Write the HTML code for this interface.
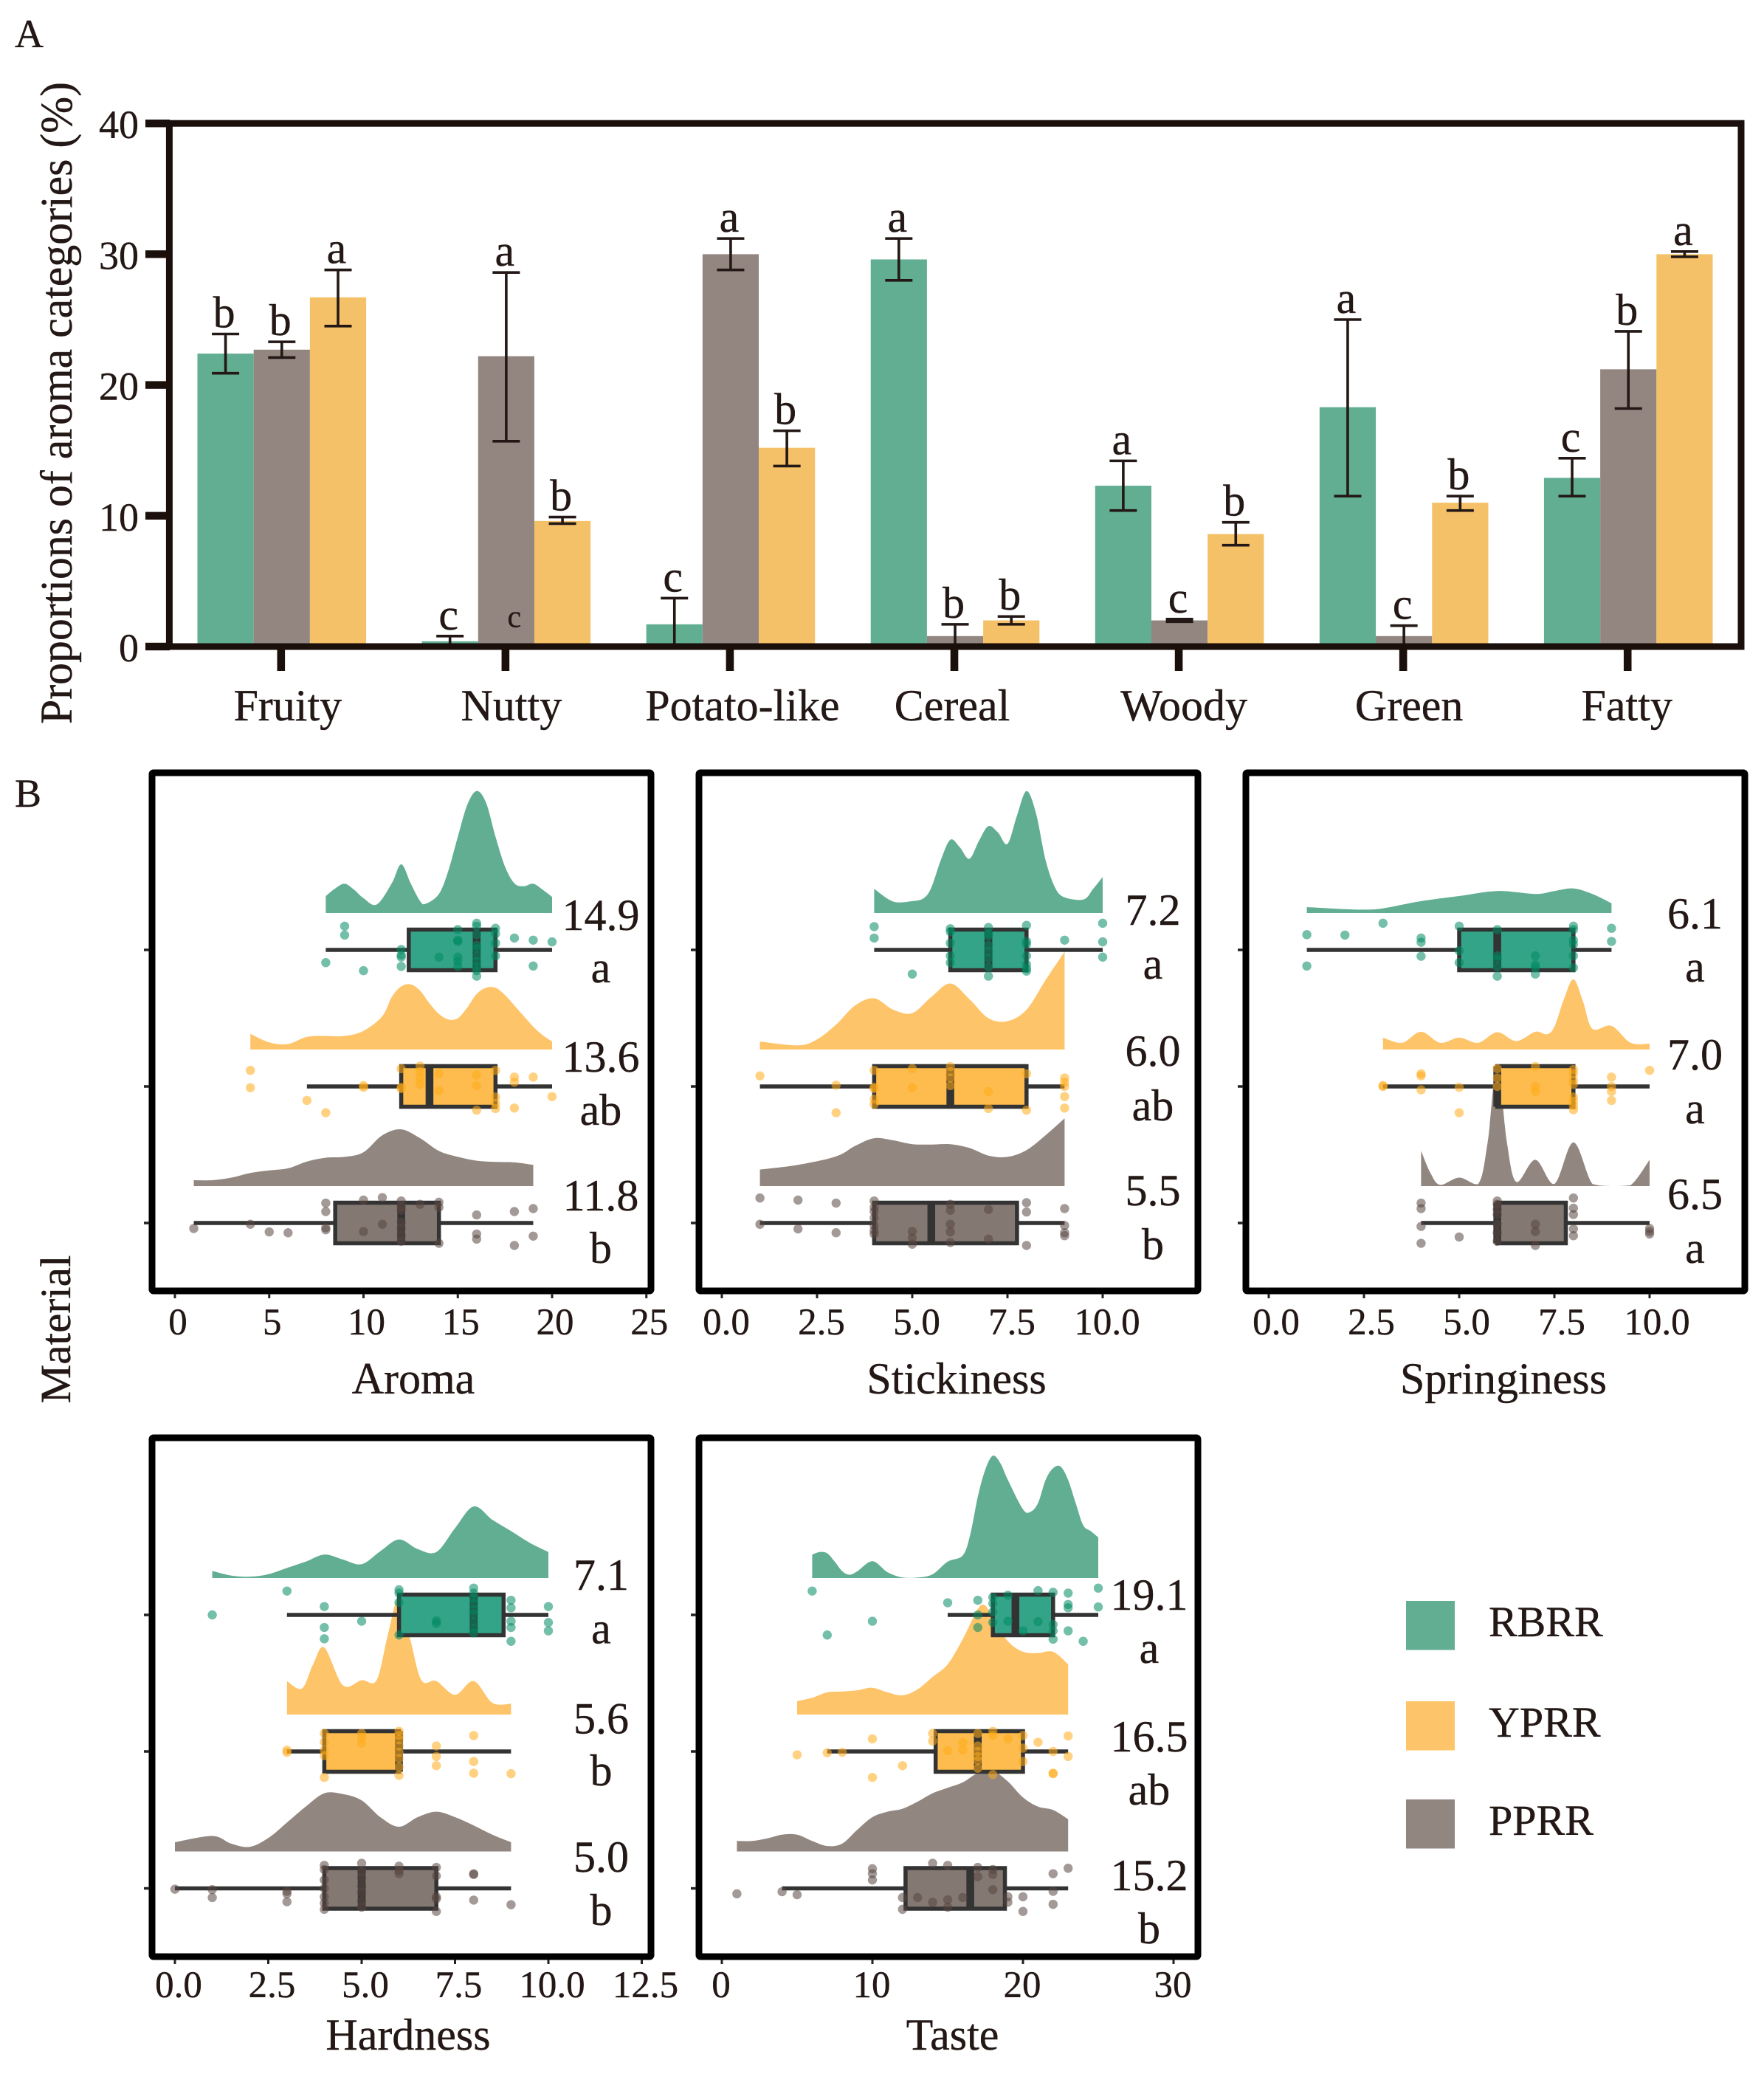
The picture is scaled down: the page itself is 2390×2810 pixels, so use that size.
<!DOCTYPE html>
<html lang="en">
<head>
<meta charset="utf-8">
<title>Aroma categories and sensory raincloud plots</title>
<style>
html,body{margin:0;padding:0;background:#fff;}
svg{display:block;}
text{font-family:"Liberation Serif","Noto Serif CJK SC",serif;fill:#231815;stroke:#231815;stroke-width:0.4;}
</style>
</head>
<body>
<svg id="figure" xmlns="http://www.w3.org/2000/svg" width="2390" height="2810" viewBox="0 0 2390 2810">
  <rect x="0" y="0" width="2390" height="2810" fill="#fff"/>
  <text x="20" y="64" font-size="54">A</text>
  <text x="20" y="1093" font-size="54">B</text>
  <text transform="translate(97,546) rotate(-90)" text-anchor="middle" font-size="61" textLength="870" lengthAdjust="spacingAndGlyphs">Proportions of aroma categories (%)</text>
  <text transform="translate(95,1801) rotate(-90)" text-anchor="middle" font-size="58" textLength="201" lengthAdjust="spacingAndGlyphs">Material</text>
  <g id="bar-chart"></g>
  <g id="rain-panels"></g>
  <g id="legend"></g>
</svg>
<script>
/* ---------- Panel A data ---------- */
const barCategories = ['Fruity','Nutty','Potato-like','Cereal','Woody','Green','Fatty'];
const barYTicks = [0,10,20,30,40];
const rbrrValues = [22.4,0.4,1.7,29.6,12.3,18.3,12.9];
const rbrrHigh   = [23.9,0.8,3.7,31.2,14.2,25.0,14.4];
const rbrrLow    = [20.9,0,0,28.0,10.4,11.5,11.5];
const rbrrLetters = ['b','c','c','a','a','a','c'];
const pprrValues = [22.7,22.2,30.0,0.8,2.0,0.8,21.2];
const pprrHigh   = [23.3,28.6,31.2,1.7,2.1,1.6,24.1];
const pprrLow    = [22.1,15.7,28.8,0,1.9,0,18.2];
const pprrLetters = ['b','a','a','b','c','c','b'];
const yprrValues = [26.7,9.6,15.2,2.0,8.6,11.0,30.0];
const yprrHigh   = [28.8,9.9,16.5,2.3,9.5,11.5,30.2];
const yprrLow    = [24.5,9.4,13.8,1.7,7.75,10.4,29.8];
const yprrLetters = ['a','b','b','b','b','b','a'];
const nuttyExtraLetter = 'c';

/* ---------- Panel B data: densities [value, density], points [value, [jitters]], boxes [lo,q1,median,q3,hi] ---------- */
const seriesNames = ['RBRR','YPRR','PPRR'];

const aromaTicks = [0,5,10,15,20,25];
const aromaDensityGreen = [[8,40],[8.5,58],[9,69],[9.5,55],[10,35],[10.7,20],[11.5,70],[12,115],[12.5,70],[13,28],[13.3,22],[14,45],[14.5,100],[15,180],[15.5,255],[16,288],[16.5,260],[17,180],[17.5,110],[18,70],[18.5,63],[19,69],[19.5,55],[20,38]];
const aromaDensityYellow = [[4,37],[5,17],[6,13],[7,30],[8,32],[9,32],[10,44],[11,79],[11.5,124],[12,149],[12.5,154],[13,139],[13.5,109],[14,84],[14.5,71],[15,74],[15.5,99],[16,131],[16.5,146],[17,146],[17.5,129],[18,104],[18.5,79],[19,54],[19.5,34],[20,19]];
const aromaDensityGrey = [[1,14],[2,14],[3,20],[4,31],[5,37],[6,42],[7,58],[8,67],[9,69],[10,80],[11,120],[12,134],[13,113],[14,83],[15,69],[16,60],[17,57],[18,56],[19,50]];
const aromaPointsGreen = [[8,[30]],[9,[-56,-35]],[10,[49]],[12,[-1,12,17,39]],[14,[17]],[15,[-48,-23,-20,17,27,39]],[16,[-63,-56,-36,-11,-3,14,27,39,49,62]],[17,[-51,-38,-16,14]],[18,[-28]],[19,[-23,38]],[20,[-19]]];
const aromaPointsYellow = [[4,[-38,3]],[7,[33]],[8,[62]],[10,[-2,2]],[12,[-42,2,5]],[13,[-48,-35,-20,-5]],[14,[-30,10]],[16,[-27,-2,56]],[17,[-38,25,40,52]],[18,[-22,-10,51]],[19,[-22]],[20,[24]]];
const aromaPointsGrey = [[1,[13]],[4,[3]],[5,[21]],[6,[23]],[8,[-47,-27,11,16]],[10,[-54,20]],[11,[-60,3]],[12,[-52,-37,-30,-2,13,30,43]],[13,[-44]],[14,[-49,-37,48]],[16,[-19,26,38]],[18,[-27,53]],[19,[-34,31]]];
const aromaBoxGreen = [8,12.4,16,17,20];
const aromaBoxYellow = [7,12,13.5,17,20];
const aromaBoxGrey = [1,8.5,12,14,19];
const aromaMeans = ['14.9','13.6','11.8'];
const aromaLetters = ['a','ab','b'];

const stickinessTicks = [0,2.5,5,7.5,10];
const stickinessDensityGreen = [[4,57],[4.5,27],[5,28],[5.3,35],[5.5,60],[5.75,125],[6,173],[6.25,155],[6.5,128],[6.75,170],[7,205],[7.25,190],[7.5,163],[7.75,230],[8,288],[8.25,235],[8.5,125],[8.75,60],[9,37],[9.5,32],[9.75,57],[10,85]];
const stickinessDensityYellow = [[1,19],[2,10],[2.5,24],[3,59],[3.5,104],[4,121],[4.5,94],[5,86],[5.5,124],[6,156],[6.5,119],[7,74],[7.5,67],[8,94],[8.5,164],[9,231]];
const stickinessDensityGrey = [[1,39],[2,50],[3,70],[3.5,95],[4,113],[4.5,108],[5,99],[5.5,98],[6,99],[6.5,90],[7,72],[7.5,69],[8,85],[8.5,120],[9,160]];
const stickinessPointsGreen = [[4,[-55,-28]],[5,[57]],[6,[-50,-43,-16,14,30]],[7,[-53,-38,-33,-11,4,20,40,62]],[8,[-58,-20,-13,14,34,44,50]],[9,[-23]],[10,[-63,-19,17]]];
const stickinessPointsYellow = [[1,[-25]],[3,[-3,62]],[4,[-38,2,5,30,42]],[5,[-42,3]],[6,[-47,-35,-20,-2]],[7,[12,52]],[8,[-30,56]],[9,[-20,-10,0,24,51]]];
const stickinessPointsGrey = [[1,[-59,3]],[2,[-54,14]],[3,[-47,23]],[4,[-52,-37,-27,-12,6,18,26]],[5,[20,36,50]],[6,[-44,-30,3,21,46]],[7,[-32,38]],[8,[-48,-26,53]],[9,[-34,6,23,30]]];
const stickinessBoxGreen = [4,6,7,8,10];
const stickinessBoxYellow = [1,4,6,8,9];
const stickinessBoxGrey = [1,4,5.5,7.75,9];
const stickinessMeans = ['7.2','6.0','5.5'];
const stickinessLetters = ['a','ab','b'];

const springinessTicks = [0,2.5,5,7.5,10];
const springinessDensityGreen = [[1,14],[2,9],[2.5,8],[3,11],[4,28],[5,40],[6,52],[7,45],[7.5,52],[8,58],[8.5,45],[9,23]];
const springinessDensityYellow = [[3,28],[3.5,16],[4,42],[4.5,16],[5,28],[5.5,16],[6,41],[6.5,20],[7,42],[7.3,36],[7.5,54],[7.75,119],[8,166],[8.25,114],[8.5,49],[9,56],[9.5,16],[10,14]];
const springinessDensityGrey = [[4,83],[4.25,30],[4.5,3],[5,20],[5.5,5],[5.75,105],[6,288],[6.25,105],[6.5,10],[7,62],[7.5,5],[8,103],[8.5,5],[9,0],[9.5,2],[10,62]];
const springinessPointsGreen = [[1,[-36,38]],[2,[-35]],[3,[-63]],[4,[-28,-18,15]],[5,[-56,2,30]],[6,[-48,14,22,40,62]],[7,[14,35,42,57]],[8,[-56,-48,-23,-13,14,42]],[9,[-51,-20]]];
const springinessPointsYellow = [[3,[-2,0]],[4,[-30,-25,8]],[5,[2,62]],[6,[-42,-20,0]],[7,[-47,0,12]],[8,[-40,-30,-15,-5,25,35,45,55]],[9,[-22,0,12,33]],[10,[-38]]];
const springinessPointsGrey = [[4,[-47,-34,8,48]],[5,[33]],[6,[-52,-44,-32,-20,3,23,43]],[7,[3,20,53]],[8,[-59,-35,-20,14,30]],[10,[13,20,26]]];
const springinessBoxGreen = [1,5,6,8,9];
const springinessBoxYellow = [3,6,6,8,10];
const springinessBoxGrey = [4,6,6,7.8,10];
const springinessMeans = ['6.1','7.0','6.5'];
const springinessLetters = ['a','a','a'];

const hardnessTicks = [0,2.5,5,7.5,10,12.5];
const hardnessDensityGreen = [[1,17],[1.5,6],[2,3],[2.5,9],[3,24],[3.5,39],[4,56],[4.5,44],[5,33],[5.5,64],[6,92],[6.5,69],[7,62],[7.5,119],[8,171],[8.5,139],[9,112],[9.5,84],[10,62]];
const hardnessDensityYellow = [[3,80],[3.4,62],[3.7,120],[4,160],[4.5,70],[5,82],[5.4,82],[5.7,190],[6,280],[6.3,180],[6.6,82],[7,80],[7.5,47],[8,80],[8.5,28],[9,26]];
const hardnessDensityGrey = [[0,22],[1,37],[1.5,19],[2,11],[2.5,32],[3,69],[3.5,107],[4,139],[4.5,137],[5,122],[5.5,82],[6,59],[6.5,82],[7,95],[7.5,82],[8,62],[8.5,40],[9,22]];
const hardnessPointsGreen = [[1,[0]],[3,[-57]],[4,[-20,30,57]],[5,[15]],[6,[-60,-52,-30,48]],[7,[14,20]],[8,[-64,-52,-40,-27,-12,-2,16,33,43]],[9,[-35,-17,15,30,63]],[10,[-20,18,38]]];
const hardnessPointsYellow = [[3,[-3,2]],[4,[-43,-23,-3,10,62]],[5,[-43,-33,-20]],[6,[-48,-38,-28,-13,2,17,37,57]],[7,[-13,12,34]],[8,[-38,24,52]],[9,[53]]];
const hardnessPointsGrey = [[0,[2]],[1,[3,22]],[3,[7,13,32]],[4,[-55,-45,-20,0,20,35,50]],[5,[-60,-40,-25,-5,10,30,45]],[6,[-53,-43,-35]],[7,[-50,-30,20,25,55]],[8,[-35,-33,28]],[9,[39]]];
const hardnessBoxGreen = [3,6,8,8.8,10];
const hardnessBoxYellow = [3,4,6,6,9];
const hardnessBoxGrey = [0,4,5,7,9];
const hardnessMeans = ['7.1','5.6','5.0'];
const hardnessLetters = ['a','b','b'];

const tasteTicks = [0,10,20,30];
const tasteDensityGreen = [[6,56],[6.5,62],[7,59],[7.5,39],[8,16],[8.5,8],[9,16],[10,40],[11,14],[12,1],[13,1],[14,9],[15,39],[16,54],[16.5,104],[17,194],[17.5,259],[18,292],[18.5,274],[19,234],[20,164],[20.5,158],[21,179],[21.5,234],[22,262],[22.5,266],[23,234],[23.5,179],[24,126],[24.5,112],[25,97]];
const tasteDensityYellow = [[5,32],[6,40],[7,53],[8,55],[9,58],[10,64],[11,53],[12,46],[13,60],[14,90],[15,120],[16,180],[17,252],[17.5,260],[18,230],[19,175],[20,150],[21,147],[22,150],[23,120]];
const tasteDensityGrey = [[1,25],[2,25],[3,31],[4,40],[5,40],[6,25],[7,13],[8,19],[9,52],[10,82],[11,95],[12,102],[13,119],[14,139],[15,152],[16,165],[17,187],[18,192],[19,167],[20,129],[21,107],[22,99],[23,77]];
const tastePointsGreen = [[6,[-57]],[7,[48]],[10,[15]],[15,[-29]],[17,[-35,0,30]],[18,[-42,-27,-7,18]],[19,[-47,15]],[20,[38]],[21,[-58,16]],[22,[-54,23,38,58]],[23,[-52,-25,-17,38]],[24,[63]],[25,[-64,-19]]];
const tastePointsYellow = [[5,[8]],[7,[3]],[8,[2]],[10,[-30,62]],[12,[34]],[14,[-43,-25]],[15,[-2]],[16,[-21,-3]],[17,[-43,-13,0,12,22,40]],[18,[-48,-38,55]],[19,[-30]],[20,[-38,-8,24]],[21,[-22]],[22,[0,52,53]],[23,[-37,12]]];
const tastePointsGrey = [[1,[13]],[4,[8]],[5,[15]],[10,[-47,-35,-20]],[12,[22,50]],[13,[22]],[14,[-60,33]],[15,[-55,27,45]],[16,[22]],[17,[-50,-28]],[18,[-45,-33,3]],[19,[20,33]],[20,[20,55]],[22,[-35,7,38]],[23,[-48]]];
const tasteBoxGreen = [15,18,19.5,22,25];
const tasteBoxYellow = [7,14.2,17,20,23];
const tasteBoxGrey = [4,12.2,16.5,18.8,23];
const tasteMeans = ['19.1','16.5','15.2'];
const tasteLetters = ['a','ab','b'];

/* ---------- drawing ---------- */
const NS = 'http://www.w3.org/2000/svg';
const INK = '#231815';
function mk(parent, tag, attrs, txt) {
  const el = document.createElementNS(NS, tag);
  for (const k in attrs) el.setAttribute(k, attrs[k]);
  if (txt !== undefined) el.textContent = txt;
  parent.appendChild(el);
  return el;
}

/* Panel A */
const barRoot = document.getElementById('bar-chart');
const xBar = i => 381.8 + 304.07 * i;
const yBar = v => 876 - v * 17.72;
const BAR_W = 76.2;
const barSeries = [
  {name:'rbrr', dx:-1, color:'#62ae93', values:rbrrValues, hi:rbrrHigh, lo:rbrrLow, letters:rbrrLetters},
  {name:'pprr', dx:0,  color:'#938681', values:pprrValues, hi:pprrHigh, lo:pprrLow, letters:pprrLetters},
  {name:'yprr', dx:1,  color:'#f5c168', values:yprrValues, hi:yprrHigh, lo:yprrLow, letters:yprrLetters}
];
barSeries.forEach(s => {
  s.values.forEach((v, i) => {
    const cx = xBar(i) + s.dx * BAR_W;
    const bar = mk(barRoot, 'rect', {x:cx - BAR_W/2, y:yBar(v), width:BAR_W, height:yBar(0) - yBar(v), fill:s.color});
    
    
  });
});
barSeries.forEach(s => {
  s.values.forEach((v, i) => {
    const cx = xBar(i) + s.dx * BAR_W;
    const d = 'M' + cx + ' ' + yBar(s.hi[i]) + 'V' + yBar(s.lo[i]) +
      'M' + (cx - 18.5) + ' ' + yBar(s.hi[i]) + 'h37' +
      (s.lo[i] > 0 ? 'M' + (cx - 18.5) + ' ' + yBar(s.lo[i]) + 'h37' : '');
    const eb = mk(barRoot, 'path', {d:d, fill:'none', stroke:INK, 'stroke-width':3.6});
    
    
    const lt = mk(barRoot, 'text', {x:cx - 2, y:yBar(s.hi[i]) - 9, 'text-anchor':'middle', 'font-size':60}, s.letters[i]);
    
    
  });
});
const extra = mk(barRoot, 'text', {x:xBar(1) + 11, y:yBar(1.5), 'text-anchor':'middle', 'font-size':42}, nuttyExtraLetter);


const barFrame = mk(barRoot, 'rect', {x:229.4, y:yBar(40), width:2359 - 229.4, height:yBar(0) - yBar(40), fill:'none', stroke:'#1a0f0a', 'stroke-width':9});


barYTicks.forEach(t => {
  const tk = mk(barRoot, 'rect', {x:197, y:yBar(t) - 5.2, width:33, height:10.4, fill:'#1a0f0a'});
  
  
  const lb = mk(barRoot, 'text', {x:188, y:yBar(t) + 20, 'text-anchor':'end', 'font-size':54}, String(t));
  
  
});
const catLabelNudge = [8, 7, 16, -4, 6, 7, -2];
barCategories.forEach((c, i) => {
  const tk = mk(barRoot, 'rect', {x:xBar(i) - 6.3, y:876, width:10.6, height:33, fill:'#1a0f0a'});
  
  
  const lb = mk(barRoot, 'text', {x:xBar(i) + catLabelNudge[i], y:976, 'text-anchor':'middle', 'font-size':60}, c);
  
  
});

/* Panel B */
const rainRoot = document.getElementById('rain-panels');
const panels = [
  {key:'aroma', title:'Aroma', decimals:0, ticks:aromaTicks, means:aromaMeans, letters:aromaLetters,
   density:[aromaDensityGreen,aromaDensityYellow,aromaDensityGrey], points:[aromaPointsGreen,aromaPointsYellow,aromaPointsGrey], boxes:[aromaBoxGreen,aromaBoxYellow,aromaBoxGrey],
   frame:[206,1047,882,1749], x0:237, unit:25.55, rows:[1287,1472,1657], k:0.574, titleX:560, annotX:814, tickDx:4,
   meanDy:[-27,-20,-17], letterDy:[44,52,54], tickBase:1808, titleBase:1888},
  {key:'stickiness', title:'Stickiness', decimals:1, ticks:stickinessTicks, means:stickinessMeans, letters:stickinessLetters,
   density:[stickinessDensityGreen,stickinessDensityYellow,stickinessDensityGrey], points:[stickinessPointsGreen,stickinessPointsYellow,stickinessPointsGrey], boxes:[stickinessBoxGreen,stickinessBoxYellow,stickinessBoxGrey],
   frame:[947,1047,1623,1749], x0:978, unit:51.6, rows:[1287,1472,1657], k:0.574, titleX:1296, annotX:1562, tickDx:6,
   meanDy:[-34,-28,-24], letterDy:[39,46,49], tickBase:1808, titleBase:1888},
  {key:'springiness', title:'Springiness', decimals:1, ticks:springinessTicks, means:springinessMeans, letters:springinessLetters,
   density:[springinessDensityGreen,springinessDensityYellow,springinessDensityGrey], points:[springinessPointsGreen,springinessPointsYellow,springinessPointsGrey], boxes:[springinessBoxGreen,springinessBoxYellow,springinessBoxGrey],
   frame:[1688,1047,2364,1749], x0:1719, unit:51.6, rows:[1287,1472,1657], k:0.574, titleX:2037, annotX:2296.5, tickDx:10,
   meanDy:[-29,-23,-19], letterDy:[43,50,54], tickBase:1808, titleBase:1888},
  {key:'hardness', title:'Hardness', decimals:1, ticks:hardnessTicks, means:hardnessMeans, letters:hardnessLetters,
   density:[hardnessDensityGreen,hardnessDensityYellow,hardnessDensityGrey], points:[hardnessPointsGreen,hardnessPointsYellow,hardnessPointsGrey], boxes:[hardnessBoxGreen,hardnessBoxYellow,hardnessBoxGrey],
   frame:[206,1948,882,2651], x0:237, unit:50.6, rows:[2188,2373,2558.5], k:0.5675, titleX:553, annotX:814.5, tickDx:5,
   meanDy:[-34,-24.5,-22.5], letterDy:[38.5,46,49.5], tickBase:2706, titleBase:2777},
  {key:'taste', title:'Taste', decimals:0, ticks:tasteTicks, means:tasteMeans, letters:tasteLetters,
   density:[tasteDensityGreen,tasteDensityYellow,tasteDensityGrey], points:[tastePointsGreen,tastePointsYellow,tastePointsGrey], boxes:[tasteBoxGreen,tasteBoxYellow,tasteBoxGrey],
   frame:[947,1948,1623,2651], x0:978, unit:20.4, rows:[2188,2373,2558.5], k:0.5675, titleX:1290.5, annotX:1557, tickDx:-1,
   meanDy:[-7,0,2.5], letterDy:[65,72,74.5], tickBase:2706, titleBase:2777}
];
const densColors = ['#62ae93','#fec46a','#928680'];
const boxColors = ['#33a488','#fdbc4d','#847872'];
const pointColors = ['#008a63','#ffab1a','#584540'];
const groupKeys = ['rbrr','yprr','pprr'];

function smoothPath(pts, base) {
  let d = 'M' + pts[0][0] + ' ' + pts[0][1];
  for (let i = 0; i < pts.length - 1; i++) {
    const p0 = pts[Math.max(0, i - 1)], p1 = pts[i], p2 = pts[i + 1], p3 = pts[Math.min(pts.length - 1, i + 2)];
    const c1x = p1[0] + (p2[0] - p0[0]) / 6, c1y = Math.min(base, p1[1] + (p2[1] - p0[1]) / 6);
    const c2x = p2[0] - (p3[0] - p1[0]) / 6, c2y = Math.min(base, p2[1] - (p3[1] - p1[1]) / 6);
    d += 'C' + c1x.toFixed(1) + ' ' + c1y.toFixed(1) + ' ' + c2x.toFixed(1) + ' ' + c2y.toFixed(1) + ' ' + p2[0].toFixed(1) + ' ' + p2[1].toFixed(1);
  }
  return d;
}

panels.forEach(p => {
  const g = mk(rainRoot, 'g', {});
  
  
  const xs = v => p.x0 + v * p.unit;

  p.density.forEach((dens, r) => {
    const base = p.rows[r] - 50;
    const pts = dens.map(q => [xs(q[0]), base - q[1] * p.k]);
    const d = 'M' + pts[0][0] + ' ' + base + 'L' + smoothPath(pts, base).slice(1) + 'V' + base + 'Z';
    const area = mk(g, 'path', {d:d, fill:densColors[r]});
    
    
  });

  p.boxes.forEach((b, r) => {
    const y = p.rows[r];
    const wh = mk(g, 'line', {x1:xs(b[0]), x2:xs(b[4]), y1:y, y2:y, stroke:'#333', 'stroke-width':5.5});
    
    
    const bx = mk(g, 'rect', {x:xs(b[1]), y:y - 27.5, width:xs(b[3]) - xs(b[1]), height:55, fill:boxColors[r], stroke:'#333', 'stroke-width':5.5});
    
    
    const md = mk(g, 'line', {x1:xs(b[2]), x2:xs(b[2]), y1:y - 27.5, y2:y + 27.5, stroke:'#333', 'stroke-width':10.5});
    
    
  });

  p.points.forEach((set, r) => {
    set.forEach(entry => {
      entry[1].forEach(j => {
        const c = mk(g, 'circle', {cx:xs(entry[0]), cy:p.rows[r] + j * p.k, r:6.2, fill:pointColors[r], 'fill-opacity':0.55});
        
        
      });
    });
  });

  const [fx0, fy0, fx1, fy1] = p.frame;
  const fr = mk(g, 'rect', {x:fx0, y:fy0, width:fx1 - fx0, height:fy1 - fy0, fill:'none', stroke:'#000', 'stroke-width':9, rx:2});
  
  

  p.rows.forEach(y => {
    const tk = mk(g, 'line', {x1:fx0 - 11, x2:fx0 - 4, y1:y, y2:y, stroke:'#222', 'stroke-width':3.5});
    
    
  });
  p.ticks.forEach(t => {
    const tk = mk(g, 'line', {x1:xs(t), x2:xs(t), y1:fy1 + 4, y2:fy1 + 10, stroke:'#222', 'stroke-width':3});
    
    
    const lb = mk(g, 'text', {x:xs(t) + p.tickDx, y:p.tickBase, 'text-anchor':'middle', 'font-size':51}, t.toFixed(p.decimals));
    
    
  });
  const tt = mk(g, 'text', {x:p.titleX, y:p.titleBase, 'text-anchor':'middle', 'font-size':60}, p.title);
  
  

  p.rows.forEach((y, r) => {
    const m = mk(g, 'text', {x:p.annotX, y:y + p.meanDy[r], 'text-anchor':'middle', 'font-size':60}, p.means[r]);
    
    
    const l = mk(g, 'text', {x:p.annotX, y:y + p.letterDy[r], 'text-anchor':'middle', 'font-size':60}, p.letters[r]);
    
    
  });
});

/* Legend */
const legendRoot = document.getElementById('legend');
const legendRows = [2169, 2305, 2438];
seriesNames.forEach((name, i) => {
  const sw = mk(legendRoot, 'rect', {x:1905, y:legendRows[i], width:66, height:66.5, fill:densColors[i]});
  
  
  const tx = mk(legendRoot, 'text', {x:2017, y:legendRows[i] + 48, 'font-size':58}, name);
  
  
});
</script>
</body>
</html>
